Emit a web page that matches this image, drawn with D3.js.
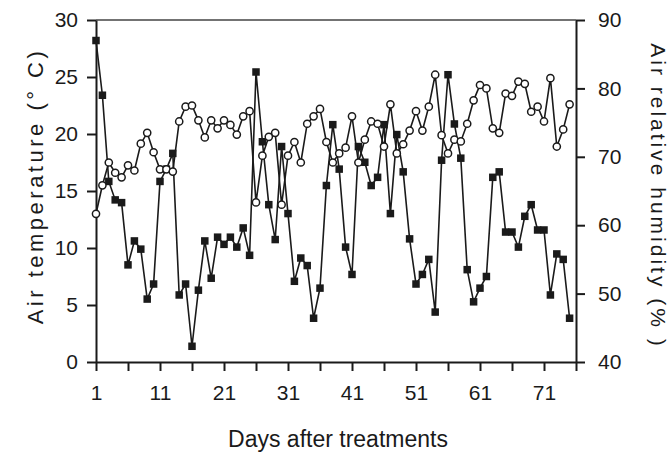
<!DOCTYPE html>
<html><head><meta charset="utf-8">
<script src="https://cdn.jsdelivr.net/npm/d3@7"></script>
<style>
html,body{margin:0;padding:0;background:#fff;}
svg{display:block;font-family:"Liberation Sans",Arial,sans-serif;}
</style></head>
<body>
<svg id="chart" width="672" height="453"></svg>
<script>
// Air temperature (°C), open circles, days 1..75
const temperature = [13.0,15.5,17.5,16.6,16.2,17.25,16.8,19.15,20.1,18.4,
16.9,16.9,16.7,21.1,22.4,22.5,21.2,19.7,21.2,20.5,
21.2,20.8,19.95,21.55,22.0,14.0,18.1,19.75,20.1,13.8,
18.1,19.3,17.5,20.9,21.55,22.2,19.3,17.5,18.3,18.8,
21.55,17.5,19.5,21.1,20.9,18.9,22.6,18.3,19.1,20.3,
22.0,20.3,22.4,25.2,19.9,18.3,19.5,19.35,20.9,22.95,
24.3,24.0,20.5,20.1,23.55,23.35,24.6,24.4,21.95,22.4,
21.1,24.9,18.9,20.4,22.6];
// Air relative humidity (%), filled squares, days 1..75
const humidity = [87.0,79.0,66.4,63.7,63.3,54.2,57.7,56.5,49.2,51.4,
66.4,68.2,70.5,49.8,51.4,42.3,50.5,57.7,52.25,58.25,
57.2,58.25,56.8,59.6,55.6,82.4,72.2,63.0,57.9,71.5,
61.7,51.8,55.2,54.1,46.4,50.8,65.8,74.7,68.2,56.8,
52.8,71.5,69.2,65.8,67.0,74.7,61.7,73.25,67.8,58.0,
51.4,52.8,55.0,47.3,69.5,82.0,74.8,69.8,53.5,48.8,
50.8,52.5,67.0,67.8,59.0,59.0,56.8,61.3,63.0,59.3,
59.3,49.8,55.8,55.0,46.4];
const xTicks = [1,6,11,16,21,26,31,36,41,46,51,56,61,66,71,76];
const xTickLabels = [1,11,21,31,41,51,61,71];
const leftTicks = [0,5,10,15,20,25,30];
const rightTicks = [40,50,60,70,80,90];

const svg = d3.select("#chart");
const L = 96, R = 576, T = 20, B = 362;
const x = d3.scaleLinear().domain([1, 76]).range([L, R]);
const yL = d3.scaleLinear().domain([0, 30]).range([B, T]);
const yR = d3.scaleLinear().domain([40, 90]).range([B, T]);
const ink = "#1a1a1a";

// frame top line
svg.append("line").attr("x1", L).attr("x2", R).attr("y1", T).attr("y2", T)
  .attr("stroke", "#444").attr("stroke-width", 1.5);

const fs = 21;
const gB = svg.append("g").attr("transform", `translate(0,${B})`)
  .call(d3.axisBottom(x).tickValues(xTicks).tickSize(9).tickSizeOuter(0)
    .tickFormat(d => xTickLabels.includes(d) ? d : ""));
const gL = svg.append("g").attr("transform", `translate(${L},0)`)
  .call(d3.axisLeft(yL).tickValues(leftTicks).tickSize(9).tickSizeOuter(0).tickPadding(9));
const gR = svg.append("g").attr("transform", `translate(${R},0)`)
  .call(d3.axisRight(yR).tickValues(rightTicks).tickSize(9).tickSizeOuter(0).tickPadding(13));
[gB, gL, gR].forEach(g => {
  g.select(".domain").attr("stroke", ink).attr("stroke-width", 2);
  g.selectAll(".tick line").attr("stroke", ink).attr("stroke-width", 2);
  g.selectAll(".tick text").attr("fill", ink).attr("font-size", fs)
   .attr("font-family", "Liberation Sans, Arial, sans-serif");
});
gB.selectAll(".tick text").attr("dy", "1.25em");

// lines
const lineT = d3.line().x((d, i) => x(i + 1)).y(d => yL(d));
const lineH = d3.line().x((d, i) => x(i + 1)).y(d => yR(d));
svg.append("path").datum(humidity).attr("d", lineH)
  .attr("fill", "none").attr("stroke", ink).attr("stroke-width", 1.6);
svg.append("path").datum(temperature).attr("d", lineT)
  .attr("fill", "none").attr("stroke", ink).attr("stroke-width", 1.6);

const sq = 7.5;
svg.append("g").selectAll("rect").data(humidity).join("rect")
  .attr("x", (d, i) => x(i + 1) - sq / 2).attr("y", d => yR(d) - sq / 2)
  .attr("width", sq).attr("height", sq).attr("fill", ink);
svg.append("g").selectAll("circle").data(temperature).join("circle")
  .attr("cx", (d, i) => x(i + 1)).attr("cy", d => yL(d)).attr("r", 3.6)
  .attr("fill", "#fff").attr("stroke", ink).attr("stroke-width", 1.5);

// axis titles
svg.append("text").attr("transform", `translate(43,186) rotate(-90)`)
  .attr("text-anchor", "middle").attr("font-size", 22).attr("letter-spacing", 3.5)
  .attr("fill", ink).text("Air temperature (° C)");
svg.append("text").attr("transform", `translate(651,196) rotate(90)`)
  .attr("text-anchor", "middle").attr("font-size", 21).attr("letter-spacing", 3)
  .attr("fill", ink).text("Air relative humidity (% )");
svg.append("text").attr("x", 338).attr("y", 447)
  .attr("text-anchor", "middle").attr("font-size", 23)
  .attr("fill", ink).text("Days after treatments");
</script>
</body></html>
